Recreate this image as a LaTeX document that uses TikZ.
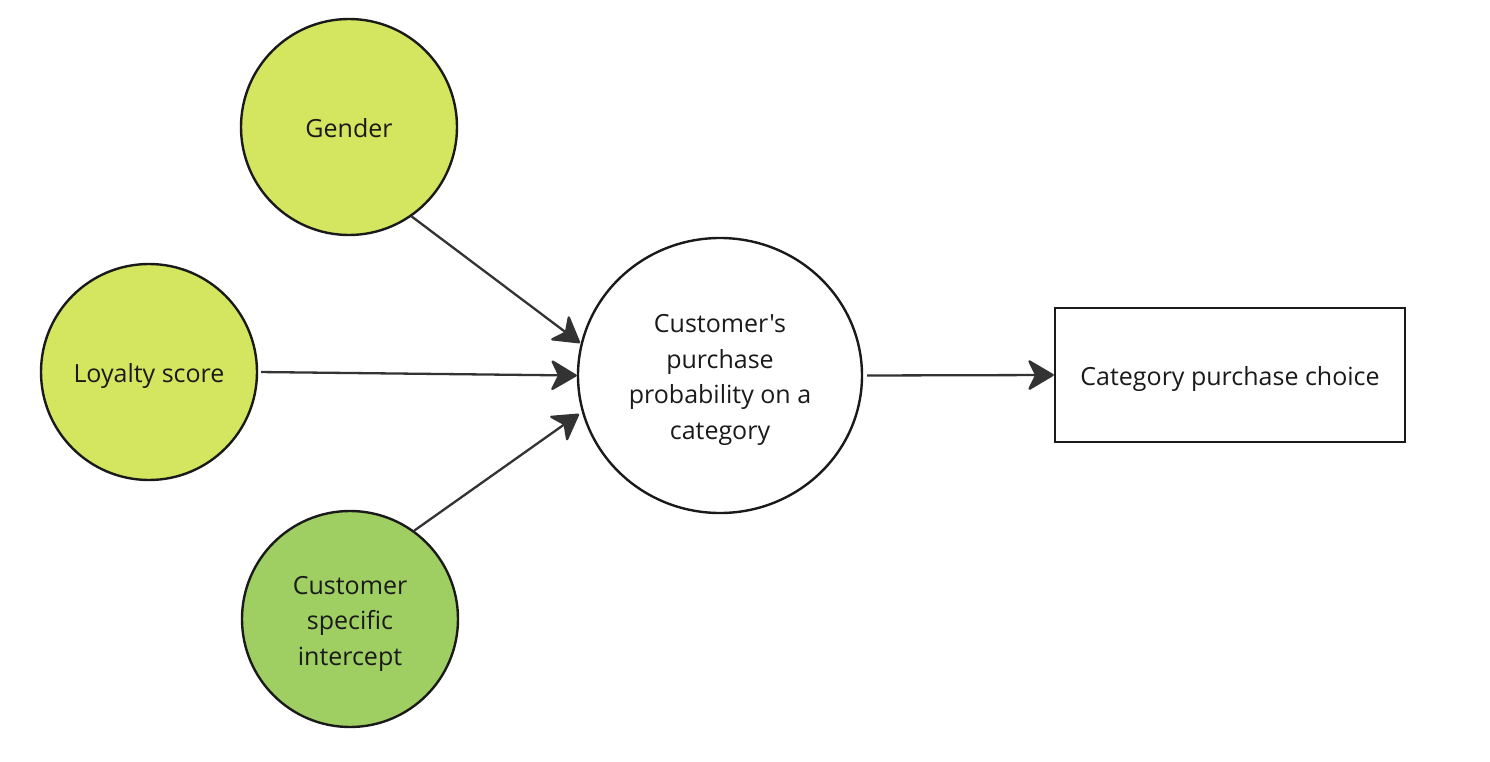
\documentclass[tikz,border=0pt]{standalone}
\usepackage{fontspec}
\setmainfont{Open Sans}[Ligatures=TeXOff]
\usetikzlibrary{arrows.meta,shapes.geometric}
\definecolor{lightgreen}{HTML}{D4E65F}
\definecolor{midgreen}{HTML}{9FCF62}
\definecolor{edgegray}{HTML}{333333}
\definecolor{bordergray}{HTML}{1A1A1A}
\newcommand{\ml}[1]{\raisebox{-3.5pt}[\height][\depth]{\begin{tabular}{@{}c@{}}#1\end{tabular}}}
\tikzset{
  txt/.style={font=\fontsize{25}{35.5}\selectfont, text=bordergray},
  factor/.style={circle, draw=bordergray, line width=2.4pt, minimum size=216pt, inner sep=0pt, txt},
  latent/.style={ellipse, draw=bordergray, line width=2.4pt, minimum width=284pt, minimum height=275pt, inner sep=0pt, txt},
  outcome/.style={rectangle, draw=bordergray, line width=2.4pt, minimum width=350pt, minimum height=134pt, inner sep=0pt, txt},
  conn/.style={draw=edgegray, line width=2.3pt, -{Stealth[length=28pt, width=33pt, inset=8pt, line join=round]}}
}
\begin{document}
\begin{tikzpicture}[x=1pt,y=-1pt]
\useasboundingbox (0,0) rectangle (1490,762);
\node[factor, fill=lightgreen] (g) at (349,127) {\ml{Gender}};
\node[factor, fill=lightgreen] (l) at (149,372) {\ml{Loyalty score}};
\node[factor, fill=midgreen] (i) at (350,619) {\ml{Customer\\specific\\intercept}};
\node[latent, fill=white] (c) at (720,375.5) {\ml{Customer's\\purchase\\probability on a\\category}};
\node[outcome, fill=white] (r) at (1230,375) {\ml{Category purchase choice}};
\coordinate (t1) at (580,343);
\coordinate (t3) at (579,414);
\draw[conn] (g.-55) -- (t1);
\draw[conn, shorten <=3pt] (l.east) -- (c.west);
\draw[conn] (i.54) -- (t3);
\draw[conn, shorten <=4pt] (c.east) -- (r.west);
\end{tikzpicture}
\end{document}
